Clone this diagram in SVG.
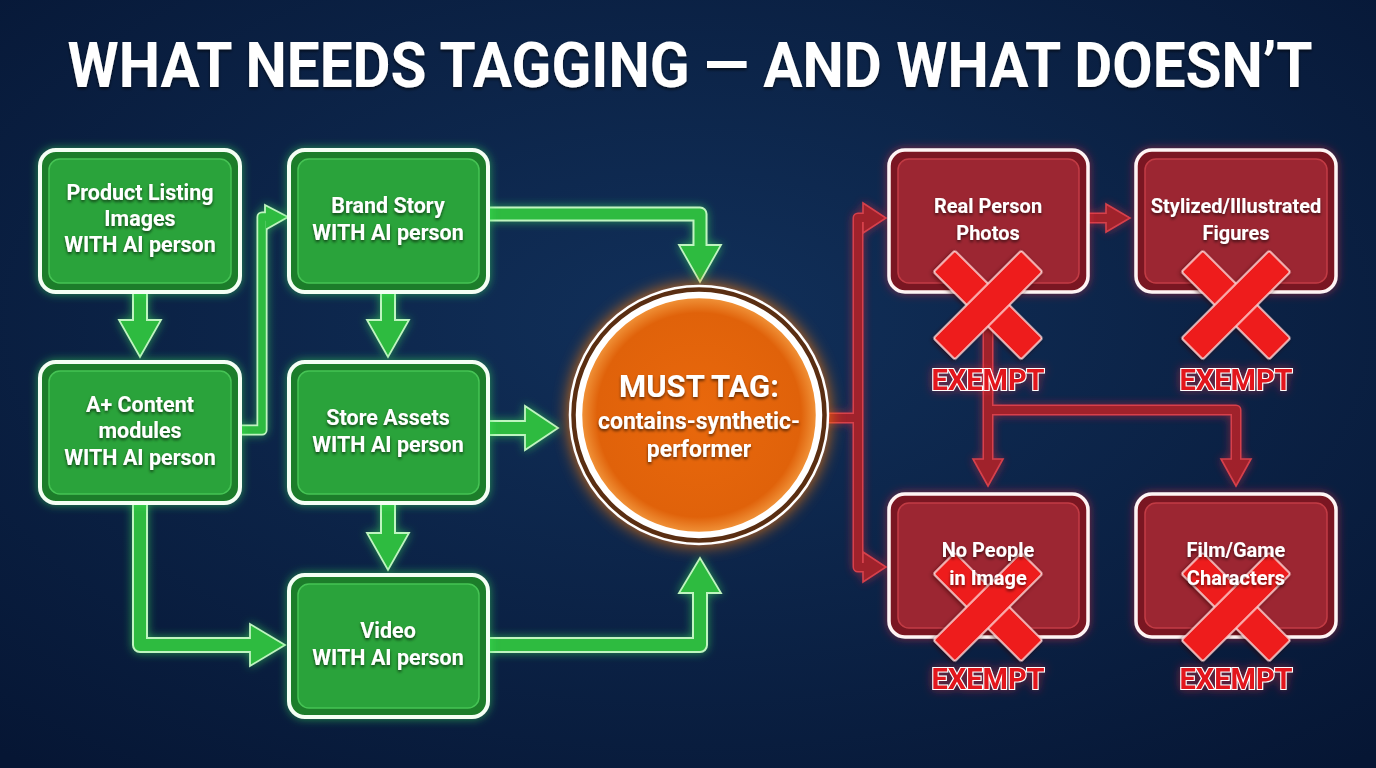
<svg xmlns="http://www.w3.org/2000/svg" width="1376" height="768" viewBox="0 0 1376 768">
<defs>
<radialGradient id="bg" cx="50%" cy="42%" r="75%">
<stop offset="0" stop-color="#11305a"/>
<stop offset="1" stop-color="#061634"/>
</radialGradient>
<radialGradient id="org" cx="50%" cy="50%" r="50%">
<stop offset="0" stop-color="#e9680c"/>
<stop offset="0.85" stop-color="#e0620a"/>
<stop offset="1" stop-color="#f39a40"/>
</radialGradient>
<filter id="glowG" x="-20%" y="-20%" width="140%" height="140%">
<feGaussianBlur in="SourceAlpha" stdDeviation="5" result="b"/>
<feFlood flood-color="#3cf05a" flood-opacity="0.55"/>
<feComposite in2="b" operator="in" result="g"/>
<feMerge><feMergeNode in="g"/><feMergeNode in="SourceGraphic"/></feMerge>
</filter>
<filter id="glowR" x="-20%" y="-20%" width="140%" height="140%">
<feGaussianBlur in="SourceAlpha" stdDeviation="5" result="b"/>
<feFlood flood-color="#ff2a3a" flood-opacity="0.5"/>
<feComposite in2="b" operator="in" result="g"/>
<feMerge><feMergeNode in="g"/><feMergeNode in="SourceGraphic"/></feMerge>
</filter>
<filter id="glowO" x="-30%" y="-30%" width="160%" height="160%">
<feGaussianBlur in="SourceGraphic" stdDeviation="8"/>
</filter>
<filter id="ts" x="-10%" y="-30%" width="120%" height="160%">
<feDropShadow dx="0" dy="2" stdDeviation="1.5" flood-color="#000" flood-opacity="0.6"/>
</filter>
<filter id="xs" x="-20%" y="-20%" width="140%" height="140%">
<feDropShadow dx="0" dy="2" stdDeviation="2" flood-color="#300" flood-opacity="0.6"/>
</filter>
<g id="xm">
<rect class="x" x="-62" y="-15" width="124" height="30" rx="2"/>
<rect class="x" x="-15" y="-62" width="30" height="124" rx="2"/>
<rect x="-14" y="-14" width="28" height="28" fill="#ee1b1b"/>
</g>
<style>
.t{font-family:Roboto,"Liberation Sans",sans-serif;font-weight:bold;fill:#fff;text-anchor:middle}
.gl{font-size:21.5px}
.rl{font-size:20px}
.go{fill:#1d7d2b;stroke:#f4fff4;stroke-width:4}
.gi{fill:#2aa33a;stroke:#46c455;stroke-width:1.5}
.ro{fill:#7a1820;stroke:#fff4f4;stroke-width:3.5}
.ri{fill:#9c2531;stroke:#c23b45;stroke-width:1.5}
.gs1{fill:none;stroke:#bff5c0;stroke-linejoin:round;stroke-linecap:butt}
.gs2{fill:none;stroke:#2dbb40;stroke-linejoin:round;stroke-linecap:butt}
.gh{fill:#2dbb40;stroke:#bff5c0;stroke-width:1.8;stroke-linejoin:miter}
.rs1{fill:none;stroke:#e2434c;stroke-linejoin:round}
.rs2{fill:none;stroke:#a8232c;stroke-linejoin:round}
.rh{fill:#a8232c;stroke:#e2434c;stroke-width:1.6}
.x{fill:#ee1b1b;stroke:#ffd8d8;stroke-width:1.5}
.ex{font-family:Roboto,"Liberation Sans",sans-serif;font-weight:bold;font-size:29px;fill:#e3141c;stroke:#fff;stroke-width:2.2;paint-order:stroke;text-anchor:middle}
</style>
</defs>
<rect width="1376" height="768" fill="url(#bg)"/>
<text class="t" x="690" y="87" font-size="63" textLength="1245" lengthAdjust="spacingAndGlyphs" filter="url(#ts)">WHAT NEEDS TAGGING — AND WHAT DOESN’T</text>

<g id="connectors">
<g filter="url(#glowG)">
<path class="gs1" stroke-width="16" d="M140 292 V322"/>
<polygon class="gh" points="119,320 161,320 140,357"/>
<path class="gs2" stroke-width="12" d="M140 291 V323"/>

<path class="gs1" stroke-width="16" d="M388 292 V322"/>
<polygon class="gh" points="367,320 409,320 388,357"/>
<path class="gs2" stroke-width="12" d="M388 291 V323"/>

<path class="gs1" stroke-width="16" d="M388 503 V535"/>
<polygon class="gh" points="367,533 409,533 388,570"/>
<path class="gs2" stroke-width="12" d="M388 502 V536"/>

<path class="gs1" stroke-width="11" d="M240 430 H262 V217 H268"/>
<polygon class="gh" points="265,205 288,217 265,230"/>
<path class="gs2" stroke-width="7.5" d="M239 430 H262 V217 H267"/>

<path class="gs1" stroke-width="15" d="M488 214 H700 V247"/>
<polygon class="gh" points="679,245 721,245 700,282"/>
<path class="gs2" stroke-width="11" d="M487 214 H700 V248"/>

<path class="gs1" stroke-width="16" d="M488 428 H527"/>
<polygon class="gh" points="525,406 525,450 558,428"/>
<path class="gs2" stroke-width="12" d="M487 428 H528"/>

<path class="gs1" stroke-width="16" d="M140 503 V645 H252"/>
<polygon class="gh" points="250,624 250,666 285,645"/>
<path class="gs2" stroke-width="12" d="M140 502 V645 H253"/>

<path class="gs1" stroke-width="16" d="M488 645 H700 V591"/>
<polygon class="gh" points="679,593 721,593 700,558"/>
<path class="gs2" stroke-width="12" d="M487 645 H700 V590"/>
</g>
<g filter="url(#glowR)" opacity="0.95">
<path class="rs1" stroke-width="11" d="M826 418 H858"/>
<path class="rs1" stroke-width="11" d="M865 218 H858 V567 H865"/>
<polygon class="rh" points="863,203 886,218 863,233"/>
<polygon class="rh" points="863,552 886,567 863,582"/>
<path class="rs2" stroke-width="8" d="M826 418 H858"/>
<path class="rs2" stroke-width="8" d="M866 218 H858 V567 H866"/>

<path class="rs1" stroke-width="11" d="M1088 218 H1108"/>
<polygon class="rh" points="1106,204 1130,218 1106,232"/>
<path class="rs2" stroke-width="8" d="M1087 218 H1109"/>

<path class="rs1" stroke-width="11" d="M988 292 V461"/>
<path class="rs1" stroke-width="11" d="M988 410 H1236 V461"/>
<polygon class="rh" points="973,459 1003,459 988,486"/>
<polygon class="rh" points="1221,459 1251,459 1236,486"/>
<path class="rs2" stroke-width="8" d="M988 291 V462"/>
<path class="rs2" stroke-width="8" d="M988 410 H1236 V462"/>
</g>
</g>

<g id="n-product" filter="url(#glowG)">
<rect class="go" x="40" y="150" width="200" height="142" rx="16"/>
<rect class="gi" x="49" y="159" width="182" height="124" rx="11"/>
<text class="t gl" x="140" y="200" filter="url(#ts)">Product Listing</text>
<text class="t gl" x="140" y="226" filter="url(#ts)">Images</text>
<text class="t gl" x="140" y="252" filter="url(#ts)">WITH AI person</text>
</g>
<g id="n-aplus" filter="url(#glowG)">
<rect class="go" x="40" y="362" width="200" height="141" rx="16"/>
<rect class="gi" x="49" y="371" width="182" height="123" rx="11"/>
<text class="t gl" x="140" y="412" filter="url(#ts)">A+ Content</text>
<text class="t gl" x="140" y="438" filter="url(#ts)">modules</text>
<text class="t gl" x="140" y="465" filter="url(#ts)">WITH AI person</text>
</g>
<g id="n-brand" filter="url(#glowG)">
<rect class="go" x="289" y="150" width="199" height="142" rx="16"/>
<rect class="gi" x="298" y="159" width="181" height="124" rx="11"/>
<text class="t gl" x="388" y="213" filter="url(#ts)">Brand Story</text>
<text class="t gl" x="388" y="240" filter="url(#ts)">WITH AI person</text>
</g>
<g id="n-store" filter="url(#glowG)">
<rect class="go" x="289" y="362" width="199" height="141" rx="16"/>
<rect class="gi" x="298" y="371" width="181" height="123" rx="11"/>
<text class="t gl" x="388" y="425" filter="url(#ts)">Store Assets</text>
<text class="t gl" x="388" y="452" filter="url(#ts)">WITH AI person</text>
</g>
<g id="n-video" filter="url(#glowG)">
<rect class="go" x="289" y="575" width="199" height="142" rx="16"/>
<rect class="gi" x="298" y="584" width="181" height="124" rx="11"/>
<text class="t gl" x="388" y="638" filter="url(#ts)">Video</text>
<text class="t gl" x="388" y="665" filter="url(#ts)">WITH AI person</text>
</g>

<g id="n-musttag">
<circle cx="699" cy="415" r="131" fill="#ff7a10" opacity="0.8" filter="url(#glowO)"/>
<circle cx="699" cy="415" r="129" fill="#5a2e12" stroke="#fff" stroke-width="2.5"/>
<circle cx="699" cy="415" r="120" fill="url(#org)" stroke="#fff" stroke-width="6.5"/>
<text class="t" x="699" y="397" font-size="31" filter="url(#ts)">MUST TAG:</text>
<text class="t" x="699" y="429" font-size="23" filter="url(#ts)">contains-synthetic-</text>
<text class="t" x="699" y="457" font-size="23" filter="url(#ts)">performer</text>
</g>

<g id="n-real">
<g filter="url(#glowR)">
<rect class="ro" x="889" y="150" width="199" height="142" rx="16"/>
<rect class="ri" x="898" y="159" width="181" height="124" rx="11"/>
</g>
<use href="#xm" filter="url(#xs)" transform="translate(988 305) rotate(45)"/>
<text class="t rl" x="988" y="213" filter="url(#ts)">Real Person</text>
<text class="t rl" x="988" y="240" filter="url(#ts)">Photos</text>
<text class="ex" x="988" y="390" filter="url(#glowR)">EXEMPT</text>
</g>
<g id="n-stylized">
<g filter="url(#glowR)">
<rect class="ro" x="1136" y="150" width="200" height="142" rx="16"/>
<rect class="ri" x="1145" y="159" width="182" height="124" rx="11"/>
</g>
<use href="#xm" filter="url(#xs)" transform="translate(1236 305) rotate(45)"/>
<text class="t rl" x="1236" y="213" filter="url(#ts)">Stylized/Illustrated</text>
<text class="t rl" x="1236" y="240" filter="url(#ts)">Figures</text>
<text class="ex" x="1236" y="390" filter="url(#glowR)">EXEMPT</text>
</g>
<g id="n-nopeople">
<g filter="url(#glowR)">
<rect class="ro" x="889" y="494" width="199" height="143" rx="16"/>
<rect class="ri" x="898" y="503" width="181" height="125" rx="11"/>
</g>
<use href="#xm" filter="url(#xs)" transform="translate(988 607) rotate(45)"/>
<text class="t rl" x="988" y="557" filter="url(#ts)">No People</text>
<text class="t rl" x="988" y="585" filter="url(#ts)">in Image</text>
<text class="ex" x="988" y="689" filter="url(#glowR)">EXEMPT</text>
</g>
<g id="n-film">
<g filter="url(#glowR)">
<rect class="ro" x="1136" y="494" width="200" height="143" rx="16"/>
<rect class="ri" x="1145" y="503" width="182" height="125" rx="11"/>
</g>
<use href="#xm" filter="url(#xs)" transform="translate(1236 607) rotate(45)"/>
<text class="t rl" x="1236" y="557" filter="url(#ts)">Film/Game</text>
<text class="t rl" x="1236" y="585" filter="url(#ts)">Characters</text>
<text class="ex" x="1236" y="689" filter="url(#glowR)">EXEMPT</text>
</g>
</svg>
